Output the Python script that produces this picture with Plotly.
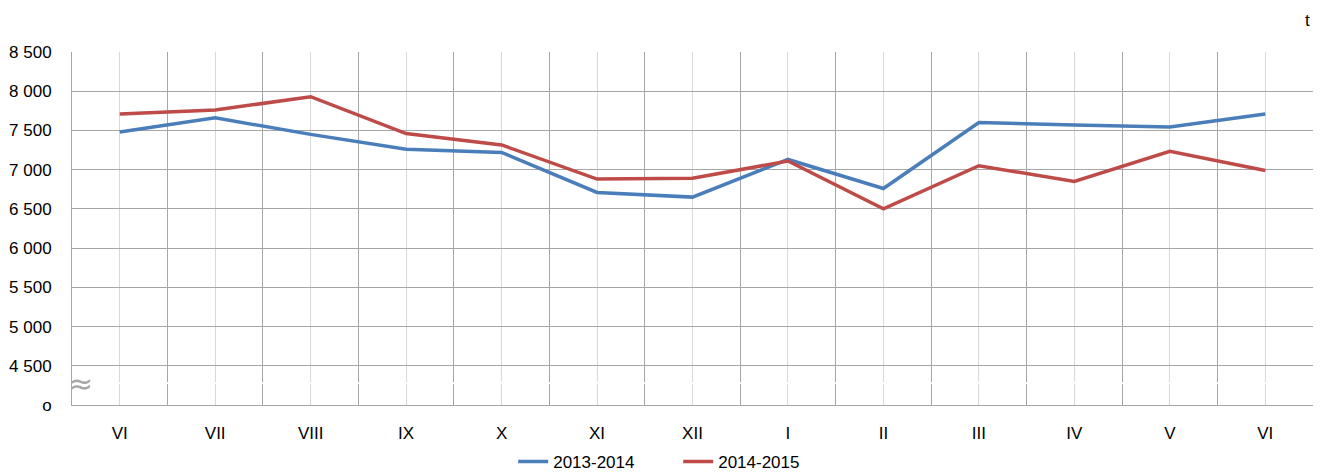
import plotly.graph_objects as go

months = ["VI", "VII", "VIII", "IX", "X", "XI", "XII", "I", "II", "III", "IV", "V", "VI"]
s2013_2014 = [7480, 7660, 7450, 7260, 7220, 6710, 6650, 7130, 6760, 7600, 7570, 7545, 7710]
s2014_2015 = [7710, 7760, 7930, 7460, 7315, 6880, 6890, 7110, 6500, 7050, 6850, 7235, 6990]
y_tickvals = [4000, 4500, 5000, 5500, 6000, 6500, 7000, 7500, 8000, 8500]
y_ticktext = ["o", "4 500", "5 000", "5 500", "6 000", "6 500", "7 000", "7 500", "8 000", "8 500"]

FONT = "Liberation Sans, Arial"
FS = 17
x = list(range(len(months)))

fig = go.Figure()
fig.add_trace(go.Scatter(x=x, y=s2013_2014, mode="lines", name="2013-2014",
                         line=dict(color="#4A7EBB", width=3.5)))
fig.add_trace(go.Scatter(x=x, y=s2014_2015, mode="lines", name="2014-2015",
                         line=dict(color="#BE4B48", width=3.5)))

n = len(months)
fig.update_xaxes(
    range=[-0.5, n - 0.5], tickmode="array", tickvals=x, ticktext=months,
    showgrid=True, gridcolor="#D9D9D9", gridwidth=1,
    minor=dict(tickmode="array", tickvals=[i - 0.5 for i in range(n + 1)],
               showgrid=True, gridcolor="#A6A6A6", gridwidth=1),
    showline=True, linecolor="#A6A6A6", linewidth=1, mirror=False,
    zeroline=False, ticks="", ticklabelstandoff=13, automargin=False,
    tickfont=dict(family=FONT, size=FS, color="#000000"),
)
fig.update_yaxes(
    range=[4000, 8500], tickmode="array", tickvals=y_tickvals, ticktext=y_ticktext,
    showgrid=True, gridcolor="#A6A6A6", gridwidth=1,
    showline=True, linecolor="#A6A6A6", linewidth=1,
    zeroline=False, ticks="", ticklabelstandoff=16, automargin=False,
    tickfont=dict(family=FONT, size=FS, color="#000000"),
)

# axis break band
fig.add_shape(type="rect", xref="x", yref="y", x0=-0.5, x1=n - 0.5, y0=4268, y1=4290,
              fillcolor="white", line=dict(width=0), layer="above")
fig.add_annotation(xref="paper", yref="y", x=0, y=4280, text="≈", showarrow=False,
                   xanchor="center", yanchor="middle", xshift=8,
                   font=dict(family="DejaVu Sans", size=30, color="#A6A6A6"))

fig.add_annotation(xref="paper", yref="paper", x=1, y=1, xshift=-1, yshift=32, text="t",
                   showarrow=False, xanchor="right", yanchor="middle",
                   font=dict(family=FONT, size=FS, color="#000000"))

fig.update_layout(
    width=1315, height=464,
    margin=dict(l=64, r=10, t=44, b=67, autoexpand=False),
    plot_bgcolor="white", paper_bgcolor="white",
    showlegend=True,
    legend=dict(orientation="h", x=0.3555, xanchor="left", y=-0.161, yanchor="middle",
                font=dict(family=FONT, size=FS, color="#000000"),
                itemwidth=30, tracegroupgap=0, entrywidth=120, entrywidthmode="pixels"),
    font=dict(family=FONT),
)

fig.write_html("out.html")
